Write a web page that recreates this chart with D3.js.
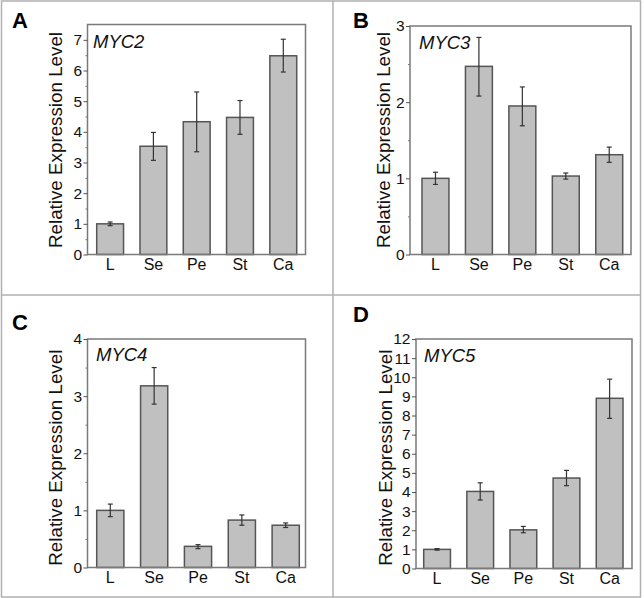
<!DOCTYPE html>
<html><head><meta charset="utf-8">
<script src="https://cdn.jsdelivr.net/npm/d3@7/dist/d3.min.js"></script>
<style>body{margin:0;background:#fff}svg{display:block}text{font-family:"Liberation Sans",Arial,sans-serif}</style>
</head><body><svg id="c" width="644" height="598"></svg>
<script>
const categories = ["L","Se","Pe","St","Ca"];
const geneNames = ["MYC2","MYC3","MYC4","MYC5"];
const panelLetters = ["A","B","C","D"];
const myc2Mean = [1.00,3.53,4.33,4.47,6.48];
const myc2Low  = [0.94,3.07,3.35,3.92,5.95];
const myc2High = [1.06,3.98,5.30,5.02,7.02];
const myc3Mean = [1.00,2.47,1.95,1.03,1.31];
const myc3Low  = [0.92,2.08,1.69,0.99,1.21];
const myc3High = [1.08,2.85,2.20,1.07,1.41];
const myc4Mean = [1.00,3.18,0.37,0.83,0.74];
const myc4Low  = [0.89,2.86,0.33,0.74,0.70];
const myc4High = [1.11,3.50,0.40,0.92,0.78];
const myc5Mean = [1.00,4.03,2.02,4.73,8.90];
const myc5Low  = [0.96,3.58,1.87,4.33,7.85];
const myc5High = [1.04,4.48,2.20,5.13,9.90];
const yMax = [7.5,3,4,12];
const yTicksA = [0,1,2,3,4,5,6,7];
const yTicksB = [0,1,2,3];
const yTicksC = [0,1,2,3,4];
const yTicksD = [0,1,2,3,4,5,6,7,8,9,10,11,12];
const minorA = [0.5,1.5,2.5,3.5,4.5,5.5,6.5];
const minorB = [0.5,1.5,2.5];
const minorC = [0.5,1.5,2.5,3.5];
const minorD = [];
const yTitle = "Relative Expression Level";

const series = [
  {mean:myc2Mean, lo:myc2Low, hi:myc2High, ticks:yTicksA, minor:minorA},
  {mean:myc3Mean, lo:myc3Low, hi:myc3High, ticks:yTicksB, minor:minorB},
  {mean:myc4Mean, lo:myc4Low, hi:myc4High, ticks:yTicksC, minor:minorC},
  {mean:myc5Mean, lo:myc5Low, hi:myc5High, ticks:yTicksD, minor:minorD}
];
// layout (positions only)
const layout = [
  {x0:87.5,x1:305.5,y0:24.5,y1:254.5,b0:96.7,b1:296.7,lx:12,ly:28,tx:62,ty:140,gx:93,gy:48},
  {x0:410,x1:631,y0:26,y1:254.5,b0:422,b1:622.7,lx:353,ly:28,tx:390,ty:140,gx:419,gy:49},
  {x0:87.5,x1:305.5,y0:339,y1:567.5,b0:96.7,b1:299.3,lx:12,ly:330,tx:62,ty:457.7,gx:96,gy:361},
  {x0:416,x1:632,y0:339,y1:568.5,b0:423.7,b1:623,lx:353,ly:322,tx:392,ty:457.7,gx:424,gy:362}
];

const svg = d3.select("#c");
const ff = '"Liberation Sans",Arial,sans-serif';
// panel dividers
const g0 = svg.append("g").attr("fill","none").attr("stroke","#b0b0b0").attr("stroke-width",1.5);
g0.append("rect").attr("x",1.5).attr("y",1).attr("width",639).attr("height",596);
g0.append("line").attr("x1",333).attr("x2",333).attr("y1",1).attr("y2",597);
g0.append("line").attr("x1",1.5).attr("x2",640.5).attr("y1",295).attr("y2",295);

series.forEach((s,i)=>{
  const L = layout[i];
  const g = svg.append("g");
  const y = d3.scaleLinear().domain([0,yMax[i]]).range([L.y1,L.y0]);
  const x = d3.scaleBand().domain(categories).range([L.b0,L.b1]).paddingInner(0.38).paddingOuter(0);
  const data = categories.map((c,k)=>({c, m:s.mean[k], lo:s.lo[k], hi:s.hi[k]}));

  // bars
  g.selectAll("rect.bar").data(data).join("rect").attr("class","bar")
    .attr("x",d=>x(d.c)).attr("width",x.bandwidth())
    .attr("y",d=>y(d.m)).attr("height",d=>y(0)-y(d.m))
    .attr("fill","#c0c0c0").attr("stroke","#555").attr("stroke-width",1.5);
  // error bars
  const eb = g.append("g").attr("stroke","#333").attr("stroke-width",1.2);
  eb.selectAll("line.v").data(data).join("line").attr("class","v")
    .attr("x1",d=>x(d.c)+x.bandwidth()/2).attr("x2",d=>x(d.c)+x.bandwidth()/2)
    .attr("y1",d=>y(d.lo)).attr("y2",d=>y(d.hi));
  ["lo","hi"].forEach(key=>{
    eb.selectAll("line.c"+key).data(data).join("line").attr("class","c"+key)
      .attr("x1",d=>x(d.c)+x.bandwidth()/2-2.5).attr("x2",d=>x(d.c)+x.bandwidth()/2+2.5)
      .attr("y1",d=>y(d[key])).attr("y2",d=>y(d[key]));
  });
  // frame
  g.append("rect").attr("x",L.x0).attr("y",L.y0).attr("width",L.x1-L.x0).attr("height",L.y1-L.y0)
    .attr("fill","none").attr("stroke","#7a7a7a").attr("stroke-width",1.5);
  // y axis
  const ya = g.append("g").attr("transform",`translate(${L.x0},0)`)
    .call(d3.axisLeft(y).tickValues(s.ticks).tickFormat(d3.format("d")).tickSize(4).tickPadding(1.5));
  ya.select(".domain").remove();
  ya.selectAll("line").attr("stroke","#555");
  ya.selectAll("text").attr("font-size",15.5).attr("fill","#111").style("font-family",ff);
  if (s.minor.length){
    const ym = g.append("g").attr("transform",`translate(${L.x0},0)`)
      .call(d3.axisLeft(y).tickValues(s.minor).tickFormat("").tickSize(2));
    ym.select(".domain").remove();
    ym.selectAll("line").attr("stroke","#777");
  }
  // x axis
  const xa = g.append("g").attr("transform",`translate(0,${L.y1})`)
    .call(d3.axisBottom(x).tickSize(0).tickPadding(4));
  xa.select(".domain").remove();
  xa.selectAll("text").attr("font-size",16).attr("fill","#111").style("font-family",ff);
  // y title
  g.append("text").attr("transform",`translate(${L.tx},${L.ty}) rotate(-90)`)
    .attr("text-anchor","middle").attr("font-size",18.8).attr("fill","#111").text(yTitle);
  // gene label
  g.append("text").attr("x",L.gx).attr("y",L.gy).attr("font-size",18.5).attr("font-style","italic")
    .attr("fill","#111").text(geneNames[i]);
  // panel letter
  g.append("text").attr("x",L.lx).attr("y",L.ly).attr("font-size",22).attr("font-weight","bold")
    .attr("fill","#000").text(panelLetters[i]);
});
</script></body></html>
